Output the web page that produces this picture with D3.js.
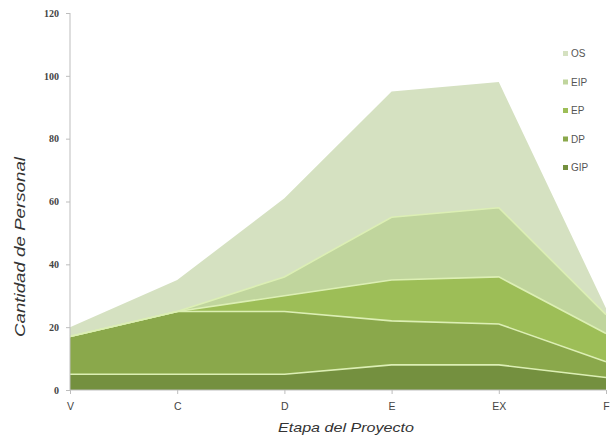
<!DOCTYPE html>
<html>
<head>
    <meta charset="utf-8">
    <title>Cantidad de Personal por Etapa</title>
    <style>
        body { margin: 0; background: #fff; }
        .tick text { font-family: "Liberation Serif", serif; font-weight: bold; font-size: 10px; fill: #444; }
        .x-axis .tick text { font-family: "Liberation Sans", Arial, sans-serif; font-weight: normal; font-size: 10.5px; fill: #444; }
        .domain, .tick line { stroke: #bdbdbd; }
        .sep { fill: none; stroke: #dcefb4; stroke-width: 1.6px; }
        .title { font-family: "Liberation Sans", Arial, sans-serif; font-style: italic; fill: #333; }
        .legend text { font-family: "Liberation Sans", Arial, sans-serif; font-size: 10px; fill: #555; }
    </style>
</head>
<body>
    <svg width="610" height="439"></svg>

    <script src="https://d3js.org/d3.v7.min.js"></script>
    <script>
        // Datos
        var etapas = ["V", "C", "D", "E", "EX", "F"];
        var series = ["GIP", "DP", "EP", "EIP", "OS"];
        var GIP = [5, 5, 5, 8, 8, 4];
        var DP  = [12, 20, 20, 14, 13, 5];
        var EP  = [0, 0, 5, 13, 15, 9];
        var EIP = [0, 0, 6, 20, 22, 6];
        var OS  = [3, 10, 25, 40, 40, 2];
        var yTicks = [0, 20, 40, 60, 80, 100, 120];
        var colores = ["#74903f", "#8aa84b", "#9dbe57", "#c0d59d", "#d5e1c1"];

        var valores = { GIP: GIP, DP: DP, EP: EP, EIP: EIP, OS: OS };
        var filas = etapas.map(function(e, i) {
            var r = { etapa: e };
            series.forEach(function(s) { r[s] = valores[s][i]; });
            return r;
        });

        var svg = d3.select("svg");

        var x = d3.scalePoint().domain(etapas).range([70, 606]);
        var y = d3.scaleLinear().domain([0, 120]).range([390, 13]);
        var color = d3.scaleOrdinal().domain(series).range(colores);

        var stack = d3.stack().keys(series);
        var capas = stack(filas);

        var area = d3.area()
            .x(function(d) { return x(d.data.etapa); })
            .y0(function(d) { return y(d[0]); })
            .y1(function(d) { return y(d[1]); });

        var linea = d3.line()
            .x(function(d) { return x(d.data.etapa); })
            .y(function(d) { return y(d[1]); });

        // areas apiladas
        svg.append("g").selectAll("path")
            .data(capas)
            .enter().append("path")
            .attr("fill", function(d) { return color(d.key); })
            .attr("d", area);

        // lineas claras entre capas (no en la de arriba)
        svg.append("g").selectAll("path")
            .data(capas.slice(0, 4))
            .enter().append("path")
            .attr("class", "sep")
            .attr("d", linea);

        // ejes
        svg.append("g")
            .attr("transform", "translate(70,0)")
            .call(d3.axisLeft(y).tickValues(yTicks).tickSize(4).tickPadding(7))
            .call(function(g) { g.select(".domain").attr("d", "M0," + y(120) + "V" + y(0)); });

        svg.append("g")
            .attr("class", "x-axis")
            .attr("transform", "translate(0,390)")
            .call(d3.axisBottom(x).tickSize(4).tickSizeOuter(0).tickPadding(9))
            .call(function(g) { g.select(".domain").attr("d", "M70,0H606"); });

        // titulos (texto algo estirado como en el original)
        svg.append("text")
            .attr("class", "title")
            .attr("x", 346)
            .attr("y", 432)
            .attr("text-anchor", "middle")
            .attr("font-size", 13)
            .attr("textLength", 136)
            .attr("lengthAdjust", "spacingAndGlyphs")
            .text("Etapa del Proyecto");

        svg.append("text")
            .attr("class", "title")
            .attr("transform", "translate(25,247) rotate(-90)")
            .attr("text-anchor", "middle")
            .attr("font-size", 15)
            .attr("textLength", 180)
            .attr("lengthAdjust", "spacingAndGlyphs")
            .text("Cantidad de Personal");

        // leyenda
        var leyenda = svg.append("g")
            .attr("class", "legend")
            .selectAll("g")
            .data(series.slice().reverse())
            .enter().append("g")
            .attr("transform", function(d, i) { return "translate(563," + (54 + i * 28.5) + ")"; });

        leyenda.append("rect")
            .attr("x", 0)
            .attr("y", -3)
            .attr("width", 5)
            .attr("height", 5)
            .attr("fill", function(d) { return color(d); });

        leyenda.append("text")
            .attr("x", 8)
            .attr("y", 3)
            .text(function(d) { return d; });
    </script>
</body>
</html>
